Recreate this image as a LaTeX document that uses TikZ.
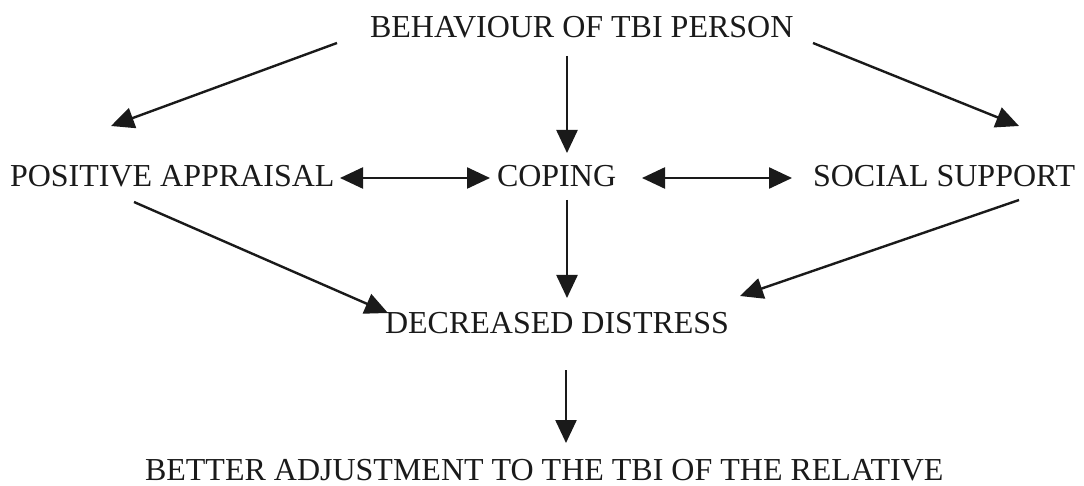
\documentclass[tikz,border=0pt]{standalone}
\usepackage{fontspec}
\setmainfont{Liberation Serif}
\usetikzlibrary{arrows.meta,calc}
\definecolor{ink}{HTML}{1A1A1A}
\begin{document}
\begin{tikzpicture}[x=1pt,y=-1pt,
  lbl/.style={anchor=base west,inner sep=0pt,outer sep=0pt,text=ink,
    font=\fontsize{32}{38}\selectfont},
  tip/.style={Triangle[length=23pt,width=21pt]},
  arr/.style={draw=ink,line width=2.4pt,-{Triangle[length=23pt,width=21pt]}},
  darr/.style={draw=ink,line width=2.4pt,{Triangle[length=23pt,width=21pt]}-{Triangle[length=23pt,width=21pt]}}]
\useasboundingbox[fill=white] (0,0) rectangle (1084,486);
\node[lbl] (beh) at (370,38) {BEHAVIOUR OF TBI PERSON};
\node[lbl] (pos) at (10,187) {POSITIVE APPRAISAL};
\node[lbl] (cop) at (497,187) {COPING};
\node[lbl] (soc) at (813,187) {SOCIAL SUPPORT};
\node[lbl] (dec) at (385,333) {DECREASED DISTRESS};
\node[lbl] (bet) at (145,480) {BETTER ADJUSTMENT TO THE TBI OF THE RELATIVE};
\draw[arr] ($(beh.base west)+(-33,5)$) -- ($(pos.base west)+(101,-61)$);
\draw[arr] ($(beh.base west)+(197,18)$) -- ($(cop.base west)+(70,-34)$);
\draw[arr] ($(beh.base west)+(443,5)$) -- ($(soc.base west)+(206,-61)$);
\draw[darr] ($(pos.base west)+(330,-9)$) -- ($(cop.base west)+(-7,-9)$);
\draw[darr] ($(cop.base west)+(145,-9)$) -- ($(soc.base west)+(-21,-9)$);
\draw[arr] ($(cop.base west)+(70,13)$) -- ($(dec.base west)+(182,-35)$);
\draw[arr] ($(pos.base west)+(124,15)$) -- ($(dec.base west)+(3,-20)$);
\draw[arr] ($(soc.base west)+(206,13)$) -- ($(dec.base west)+(355,-37)$);
\draw[arr] ($(dec.base west)+(181,37)$) -- ($(bet.base west)+(421,-37)$);
\end{tikzpicture}
\end{document}
